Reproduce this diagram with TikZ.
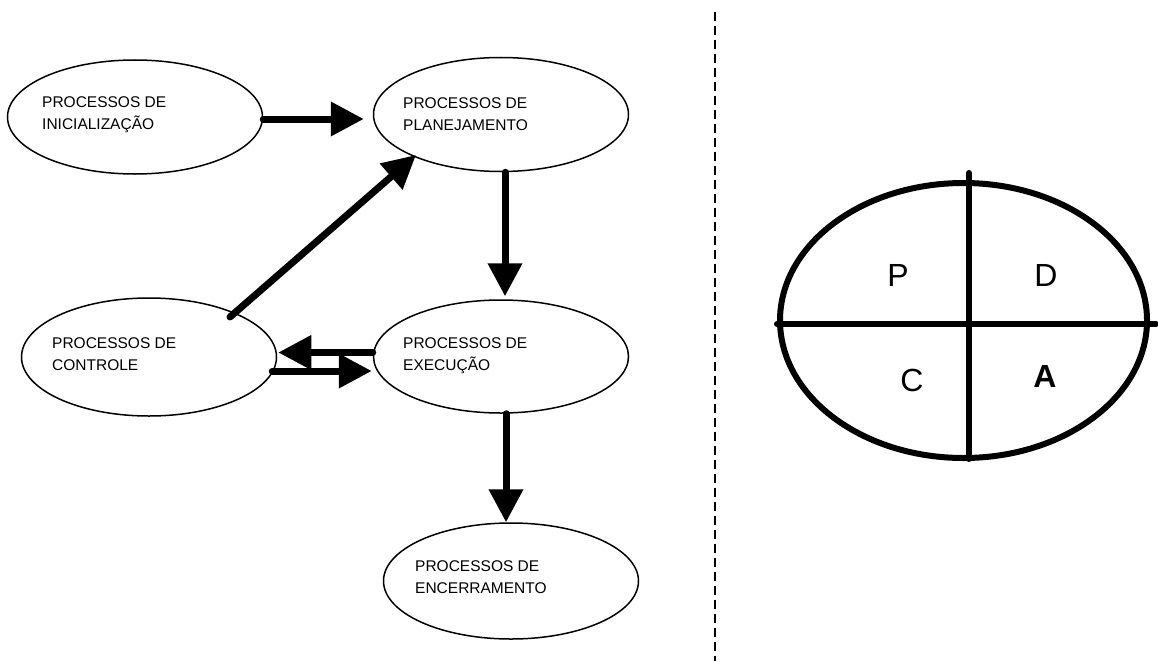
\documentclass[tikz,border=0pt]{standalone}
\usepackage{fontspec}
\setmainfont{Liberation Sans}
\usetikzlibrary{shapes.geometric,arrows.meta,calc}
\begin{document}
\begin{tikzpicture}[x=1pt,y=-1pt,
  proc/.style={ellipse,draw,line width=1.5pt,minimum width=255pt,minimum height=114pt,inner sep=0pt},
  lbl/.style={anchor=base west,align=left,inner sep=0pt,font=\fontsize{15.5}{21.5}\selectfont},
  arr/.style={line width=7pt,line cap=round,-{Triangle[length=33pt,width=33pt]}},
  big/.style={font=\fontsize{32}{36}\selectfont,inner sep=0pt}]
\useasboundingbox (0,0) rectangle (1158,661);
% process ellipses
\node[proc] (ini) at (135,117) {};
\node[proc] (plan) at (501,114.5) {};
\node[proc,minimum height=118pt] (ctrl) at (149,357) {};
\node[proc,minimum height=113pt] (exec) at (501,356.5) {};
\node[proc,minimum height=116pt] (encer) at (511,581) {};
% labels (anchor at baseline of last line)
\node[lbl] (tini) at (42,129) {PROCESSOS DE\\INICIALIZAÇÃO};
\node[lbl] (tplan) at (403,130) {PROCESSOS DE\\PLANEJAMENTO};
\node[lbl] (tctrl) at (52,370) {PROCESSOS DE\\CONTROLE};
\node[lbl] (texec) at (403,370) {PROCESSOS DE\\EXECUÇÃO};
\node[lbl] (tencer) at (415,593) {PROCESSOS DE\\ENCERRAMENTO};
% connectors
\draw[arr,shorten >=9pt] ($(ini.east)+(0,2)$) -- ($(ini.east -| plan.west)+(0,2)$);
\draw[arr] ([xshift=4pt]plan.south) -- ([xshift=4pt,yshift=3pt]exec.north);
\draw[arr] ($(ctrl.center)+(81,-40)$) -- ($(plan.center)+(-85,40.5)$);
\draw[arr] ($(exec.west)+(0,-4)$) -- ($(ctrl.east)+(1,-4.5)$);
\draw[arr] ($(ctrl.east)+(-5,14)$) -- ($(exec.west)+(-1,14.5)$);
\draw[arr] ([xshift=5pt]exec.south) -- ([xshift=-5pt]encer.north);
% separator
\draw[line width=1.5pt,dash pattern=on 9pt off 5pt] (715,12) -- (715,661);
% PDCA
\node[ellipse,draw,line width=6pt,minimum width=367pt,minimum height=275pt,inner sep=0pt] (pdca) at (963.5,320.5) {};
\draw[line width=6pt,line cap=round] (pdca.west |- 0,324) coordinate (hl) -- (1156,324) coordinate (hr);
\draw[line width=6pt,line cap=round] (969,173) coordinate (vt) -- (969,459) coordinate (vb);
\node[big] (p) at (898,275) {P};
\node[big] (d) at (1046,275) {D};
\node[big] (c) at (912,380) {C};
\node[big,font=\fontsize{32}{36}\selectfont\bfseries] (a) at (1045,376) {A};
\end{tikzpicture}
\end{document}
